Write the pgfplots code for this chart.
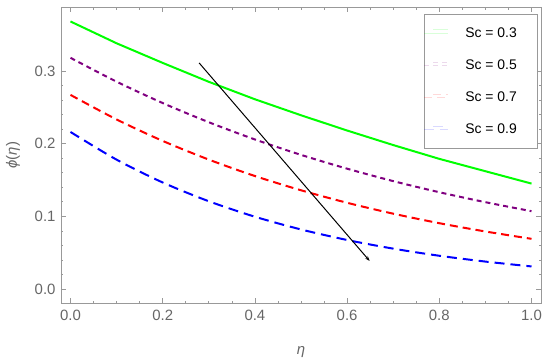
\documentclass[border=0pt]{standalone}
\usepackage{fontspec}
\setmainfont{Liberation Sans}
\usepackage{pgfplots}
\pgfplotsset{compat=1.18}
\usetikzlibrary{arrows.meta}
\definecolor{txt}{gray}{0.4}
\definecolor{frm}{gray}{0.6}
\definecolor{mgreen}{rgb}{0,1,0}
\definecolor{mpurple}{rgb}{0.5,0,0.5}
\definecolor{mred}{rgb}{1,0,0}
\definecolor{mblue}{rgb}{0,0,1}
\begin{document}
\begin{tikzpicture}
\begin{axis}[
  width=480bp, height=296bp, scale only axis,
  xmin=-0.0206, xmax=1.0206, ymin=-0.0197, ymax=0.3875,
  xtick={0,0.2,0.4,0.6,0.8,1.0}, minor x tick num=3,
  ytick={0,0.1,0.2,0.3}, minor y tick num=4,
  tick align=inside, major tick length=5bp, minor tick length=2.5bp,
  axis line style={frm, line width=0.6bp},
  tick style={frm, line width=0.6bp},
  /pgf/number format/fixed, /pgf/number format/fixed zerofill, /pgf/number format/precision=1,
  /pgf/number format/assume math mode=true,
  tick label style={font=\fontsize{15}{15}\selectfont, text=txt},
  xticklabel style={yshift=-3.5bp},
  yticklabel style={xshift=-2bp},
  every axis x label/.style={at={(axis description cs:0.5,-0.165)}, anchor=center, font=\fontsize{15}{15}\selectfont, text=txt},
  every axis y label/.style={at={(axis description cs:-0.1,0.5)}, rotate=90, anchor=center, font=\fontsize{15}{15}\selectfont, text=txt},
  xlabel={\textit{η}}, ylabel={\textit{ϕ}(\textit{η})},
  legend style={at={(axis description cs:0.9917,0.977)}, anchor=north east, draw=frm, fill=white,
    font=\fontsize{14}{14}\selectfont, inner xsep=0bp, inner ysep=13bp,
    nodes={inner sep=0bp, anchor=west}, column sep=17bp, row sep=21bp},
  legend image code/.code={\path (-9bp,0bp) -- (15bp,0bp); \draw[#1] (0bp,0.35em) -- (15bp,0.35em);},
  legend image post style={line width=0.3bp, opacity=0.15},
]
\addplot[mgreen, line width=2bp] coordinates {
(0,0.368) (0.1,0.338) (0.2,0.311) (0.3,0.285) (0.4,0.261) (0.5,0.239) (0.6,0.218) (0.7,0.198) (0.8,0.179) (0.9,0.162) (1.0,0.145)};
\addlegendentry{Sc = 0.3\hspace*{20bp}}
\addplot[mpurple, line width=2bp, dash pattern=on 5bp off 4bp, smooth] coordinates {
(0,0.318) (0.1,0.2852) (0.2,0.2558) (0.3,0.2294) (0.4,0.2057) (0.5,0.1845) (0.6,0.1655) (0.7,0.1484) (0.8,0.1331) (0.9,0.1194) (1.0,0.107)};
\addlegendentry{Sc = 0.5\hspace*{20bp}}
\addplot[mred, line width=2bp, dash pattern=on 8bp off 5bp, smooth] coordinates {
(0,0.267) (0.1,0.2332) (0.2,0.2037) (0.3,0.1780) (0.4,0.1554) (0.5,0.1358) (0.6,0.1186) (0.7,0.1036) (0.8,0.0905) (0.9,0.0791) (1.0,0.0690)};
\addlegendentry{Sc = 0.7\hspace*{20bp}}
\addplot[mblue, line width=2bp, dash pattern=on 10bp off 6bp, smooth] coordinates {
(0,0.216) (0.1,0.1779) (0.2,0.1465) (0.3,0.1207) (0.4,0.0994) (0.5,0.0819) (0.6,0.0674) (0.7,0.0555) (0.8,0.0457) (0.9,0.0377) (1.0,0.0310)};
\addlegendentry{Sc = 0.9\hspace*{20bp}}
\addplot[black, line width=1bp, -{Stealth[length=5bp,width=3.5bp]}, forget plot] coordinates {(0.279,0.311) (0.649,0.0385)};
\end{axis}
\pgfresetboundingbox
\path[use as bounding box] ([shift={(-61bp,-59.7bp)}]current axis.south west) rectangle ([shift={(9bp,7.3bp)}]current axis.north east);
\end{tikzpicture}
\end{document}
